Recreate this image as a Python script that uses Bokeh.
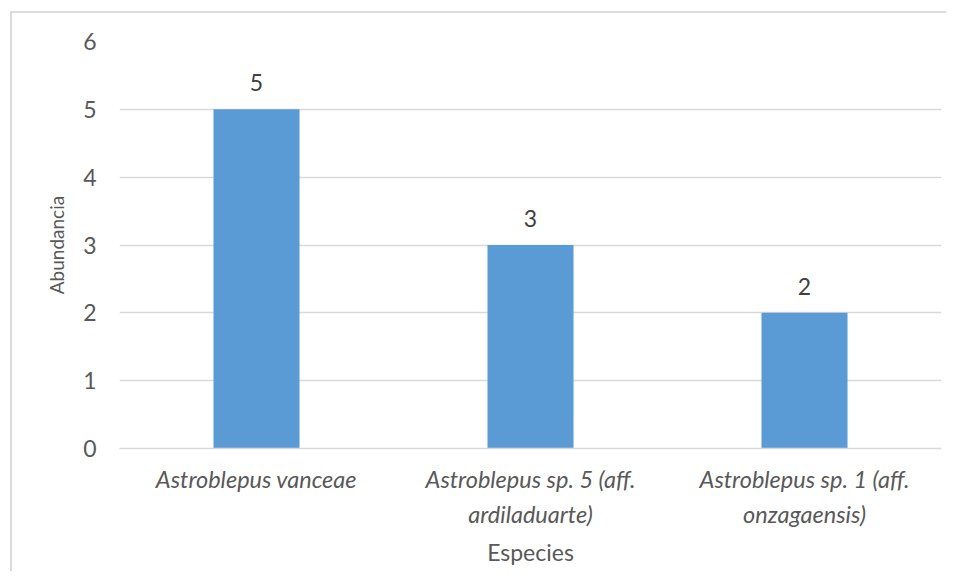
from bokeh.plotting import figure
from bokeh.models import ColumnDataSource, LabelSet, Range1d, FactorRange, SingleIntervalTicker
from bokeh.core.properties import value
from bokeh.embed import file_html
from bokeh.resources import INLINE

categories = [
    "Astroblepus vanceae",
    "Astroblepus sp. 5 (aff.\nardiladuarte)",
    "Astroblepus sp. 1 (aff.\nonzagaensis)",
]
abundance = [5, 3, 2]
value_labels = [str(v) for v in abundance]
y_ticks_interval = 1

FONT = "Lato"
TICK_COLOR = "#595959"

source = ColumnDataSource(dict(cat=categories, val=abundance, lab=value_labels))

p = figure(
    x_range=FactorRange(*categories, range_padding=0),
    y_range=Range1d(0, 6),
    width=936, height=560,
    output_backend="svg", toolbar_location=None,
    min_border_left=107, min_border_right=7,
    min_border_top=28, min_border_bottom=125,
)
p.margin = (13, 0, 0, 12)
p.styles = {"box-shadow": "-2px -2px 0 0 #dcdcdc"}

p.vbar(x="cat", top="val", width=0.314, source=source,
       fill_color="#5b9bd5", line_color=None)

labels = LabelSet(x="cat", y="val", text="lab", source=source,
                  y_offset=18, text_align="center", text_baseline="alphabetic",
                  text_font=value(FONT), text_font_size=value("23px"), text_color="#404040")
p.add_layout(labels)

p.outline_line_color = None
p.xgrid.grid_line_color = None
p.ygrid.grid_line_color = "#d9d9d9"
p.ygrid.grid_line_width = 1.5

p.yaxis.ticker = SingleIntervalTicker(interval=y_ticks_interval)
p.yaxis.axis_line_color = None
p.yaxis.major_tick_line_color = None
p.yaxis.minor_tick_line_color = None
p.yaxis.major_tick_out = 0
p.yaxis.major_label_standoff = 19
p.yaxis.major_label_text_font = FONT
p.yaxis.major_label_text_font_size = "23px"
p.yaxis.major_label_text_color = TICK_COLOR
p.yaxis.axis_label = "Abundancia"
p.yaxis.axis_label_text_font = FONT
p.yaxis.axis_label_text_font_size = "19px"
p.yaxis.axis_label_text_font_style = "normal"
p.yaxis.axis_label_text_color = TICK_COLOR
p.yaxis.axis_label_standoff = 12

p.xaxis.axis_line_color = "#d9d9d9"
p.xaxis.axis_line_width = 1.5
p.xaxis.major_tick_line_color = None
p.xaxis.minor_tick_line_color = None
p.xaxis.major_tick_out = 0
p.xaxis.major_label_standoff = 16
p.xaxis.major_label_text_font = FONT
p.xaxis.major_label_text_font_size = "23.5px"
p.xaxis.major_label_text_font_style = "italic"
p.xaxis.major_label_text_color = TICK_COLOR
p.xaxis.major_label_text_line_height = 1.28
p.xaxis.axis_label = "Especies"
p.xaxis.axis_label_text_font = FONT
p.xaxis.axis_label_text_font_size = "23px"
p.xaxis.axis_label_text_font_style = "normal"
p.xaxis.axis_label_text_color = TICK_COLOR
p.xaxis.axis_label_standoff = 7

open("out.html", "w").write(file_html(p, INLINE))
